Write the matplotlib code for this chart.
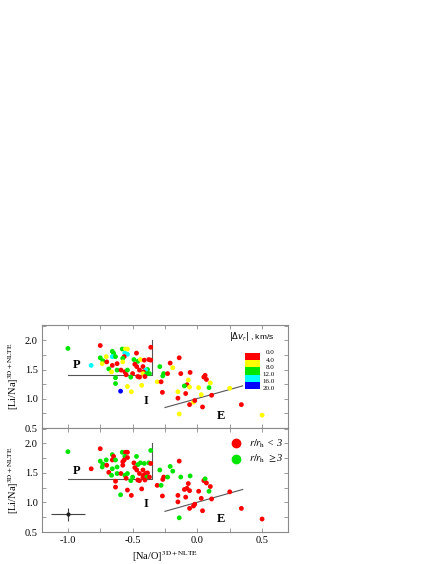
import matplotlib
matplotlib.use('Agg')
import matplotlib.pyplot as plt
from matplotlib.colors import ListedColormap, BoundaryNorm
from matplotlib.ticker import MultipleLocator
import numpy as np

plt.rcParams['font.family'] = ['Liberation Serif', 'DejaVu Serif']
plt.rcParams['mathtext.fontset'] = 'stix'

# [Na/O] and [Li/Na] of every star (same stars in both panels)
na_o = [-1.00, -0.75, -0.82, -0.657, -0.647, -0.58, -0.555, -0.54, -0.56, -0.54,
        -0.565, -0.576, -0.75, -0.704, -0.657, -0.632, -0.73, -0.735, -0.70, -0.657,
        -0.62, -0.576, -0.684, -0.663, -0.62, -0.59, -0.56, -0.54, -0.55, -0.50,
        -0.47, -0.49, -0.46, -0.44, -0.41, -0.375, -0.36, -0.36, -0.483, -0.468,
        -0.42, -0.447, -0.385, -0.40, -0.416, -0.42, -0.39, -0.37, -0.46, -0.447,
        -0.405, -0.514, -0.632, -0.632, -0.593, -0.54, -0.51, -0.43, -0.31, -0.29,
        -0.26, -0.267, -0.23, -0.21, -0.19, -0.14, -0.128, -0.28, -0.27, -0.07,
        -0.08, -0.10, -0.06, -0.056, -0.15, -0.09, -0.15, -0.03, -0.06, -0.02,
        0.04, 0.01, 0.03, 0.05, 0.06, 0.07, 0.10, 0.09, 0.11, -0.14,
        0.25, 0.34, 0.50]
li_na = [1.86, 1.91, 1.57, 1.81, 1.78, 1.85, 1.85, 1.85, 1.78, 1.76,
         1.72, 1.69, 1.70, 1.72, 1.72, 1.72, 1.65, 1.60, 1.63, 1.57,
         1.60, 1.63, 1.51, 1.46, 1.49, 1.49, 1.46, 1.49, 1.41, 1.43,
         1.78, 1.67, 1.64, 1.67, 1.66, 1.67, 1.66, 1.88, 1.59, 1.55,
         1.55, 1.49, 1.50, 1.49, 1.46, 1.43, 1.43, 1.43, 1.38, 1.37,
         1.38, 1.37, 1.36, 1.26, 1.13, 1.21, 1.12, 1.23, 1.29, 1.55,
         1.43, 1.39, 1.43, 1.61, 1.53, 1.70, 1.43, 1.29, 1.11, 1.32,
         1.24, 1.22, 1.20, 1.45, 1.12, 1.09, 1.01, 0.94, 0.90, 0.97,
         0.86, 1.19, 1.07, 1.37, 1.40, 1.33, 1.27, 1.19, 1.06, 0.74,
         1.18, 0.90, 0.72]
# |dv_r| in km/s (top panel colour)
dv_r = [10, 2, 14, 10, 10, 10, 6, 6, 14, 14,
        2, 10, 10, 6, 14, 10, 10, 6, 2, 2,
        2, 6, 10, 6, 10, 2, 2, 10, 2, 2,
        2, 10, 10, 6, 2, 2, 2, 2, 2, 2,
        2, 2, 10, 14, 2, 6, 10, 10, 2, 2,
        2, 10, 10, 10, 18, 6, 6, 6, 6, 10,
        10, 10, 2, 2, 6, 2, 2, 2, 2, 6,
        2, 10, 6, 2, 6, 2, 2, 6, 2, 2,
        2, 6, 6, 2, 2, 2, 6, 10, 2, 6,
        6, 2, 6]
# 1 if r/r_h >= 3 (bottom panel colour)
outer = [1, 0, 0, 1, 0, 1, 0, 0, 1, 0,
         0, 0, 1, 1, 0, 1, 1, 1, 0, 1,
         1, 0, 0, 1, 1, 0, 1, 1, 0, 1,
         1, 0, 1, 1, 1, 1, 0, 1, 0, 0,
         0, 0, 0, 0, 0, 0, 1, 0, 0, 0,
         0, 1, 0, 0, 1, 0, 0, 0, 0, 1,
         0, 0, 1, 1, 1, 0, 1, 1, 0, 0,
         0, 0, 0, 1, 0, 0, 0, 0, 0, 0,
         0, 0, 0, 0, 1, 0, 0, 1, 0, 1,
         0, 0, 0]

dv_levels = [0, 4, 8, 12, 16, 20]
dv_colors = ['#ff0000', '#ffff00', '#00e600', '#00ffff', '#0000ff']
grp_colors = ['#ff0000', '#00e600']

p_line_x = [-1.0, -0.35, -0.35]
p_line_y = [1.4, 1.4, 2.0]
e_line_x = [-0.25, 0.35]
e_line_y = [0.85, 1.22]

err_x, err_y, err_dx, err_dy = -1.0, 0.80, 0.13, 0.11

cmap = ListedColormap(dv_colors)
norm = BoundaryNorm(dv_levels, cmap.N)

fig = plt.figure(figsize=(4.36, 5.64), dpi=100)
ax1 = fig.add_axes([0.0963, 0.2411, 0.5642, 0.1826])
ax2 = fig.add_axes([0.0963, 0.0567, 0.5642, 0.1844])

spine_c = '#8a8a8a'
for ax in (ax1, ax2):
    ax.set_xlim(-1.2, 0.7)
    ax.set_ylim(0.5, 2.26)
    ax.xaxis.set_major_locator(MultipleLocator(0.5))
    ax.xaxis.set_minor_locator(MultipleLocator(0.25))
    ax.yaxis.set_major_locator(MultipleLocator(0.5))
    ax.yaxis.set_minor_locator(MultipleLocator(0.25))
    ax.tick_params(which='both', direction='in', top=True, right=True,
                   length=3, width=0.6, color=spine_c, labelsize=7.5, pad=3)
    for s in ax.spines.values():
        s.set_color(spine_c)
        s.set_linewidth(0.8)
    ax.plot(p_line_x, p_line_y, color='#555555', lw=0.8)
    ax.plot(e_line_x, e_line_y, color='#555555', lw=0.8)
    ax.set_ylabel(r'[Li/Na]$^{\rm 3D+NLTE}$', fontsize=7.5)
    ax.yaxis.set_label_coords(-0.085, 0.5)

ax1.set_xticklabels([])
ax1.set_yticks([0.5, 1.0, 1.5, 2.0])
ax1.set_yticklabels(['0.5', '1.0', '1.5', '2.0'])

# top panel: colour by |dv_r|
ax1.scatter(na_o, li_na, c=dv_r, cmap=cmap, norm=norm, s=12, lw=0, zorder=3)
ax1.text(-0.93, 1.57, 'P', fontsize=9, fontweight='bold', ha='center', va='center')
ax1.text(-0.40, 0.96, 'I', fontsize=9, fontweight='bold', ha='center', va='center')
ax1.text(0.18, 0.70, 'E', fontsize=9, fontweight='bold', ha='center', va='center')

cax = ax1.inset_axes([0.825, 0.379, 0.061, 0.35])
cax.pcolormesh([0, 1], dv_levels, np.array(dv_levels[:-1]).reshape(-1, 1) + 2,
               cmap=cmap, norm=norm)
cax.set_ylim(20, 0)
cax.set_xticks([])
cax.set_yticks([])
for s in cax.spines.values():
    s.set_visible(False)
for v in dv_levels:
    cax.text(2.0, v, '%.1f' % v, transform=cax.get_yaxis_transform(),
             fontsize=5, ha='right', va='center')
ax1.text(0.852, 0.886, r'$|\Delta v_r|$ , km/s', transform=ax1.transAxes,
         fontsize=6, ha='center', va='center', family='Liberation Sans',
         math_fontfamily='dejavusans')

# bottom panel: colour by r/r_h
ax2.scatter(na_o, li_na, c=[grp_colors[g] for g in outer], s=12, lw=0, zorder=3)
ax2.errorbar([err_x], [err_y], xerr=[err_dx], yerr=[err_dy], fmt='o', ms=2,
             color='#222222', ecolor='#444444', elinewidth=0.8, capsize=0)
ax2.text(-0.93, 1.53, 'P', fontsize=9, fontweight='bold', ha='center', va='center')
ax2.text(-0.40, 0.97, 'I', fontsize=9, fontweight='bold', ha='center', va='center')
ax2.text(0.18, 0.72, 'E', fontsize=9, fontweight='bold', ha='center', va='center')

ax2.plot([0.789], [0.853], 'o', ms=6, color=grp_colors[0], transform=ax2.transAxes)
ax2.plot([0.789], [0.702], 'o', ms=6, color=grp_colors[1], transform=ax2.transAxes)
ax2.text(0.841, 0.853, r'$r/r_{\rm h}$ < 3', transform=ax2.transAxes,
         fontsize=7.5, style='italic', va='center')
ax2.text(0.841, 0.702, r'$r/r_{\rm h}$ $\geq$3', transform=ax2.transAxes,
         fontsize=7.5, style='italic', va='center')

ax2.set_xticks([-1.0, -0.5, 0.0, 0.5])
ax2.set_xticklabels(['-1.0', '-0.5', '0.0', '0.5'])
ax2.set_xlabel(r'[Na/O]$^{\rm 3D+NLTE}$', fontsize=7.5, labelpad=3)

fig.savefig('out.png', dpi=100)
